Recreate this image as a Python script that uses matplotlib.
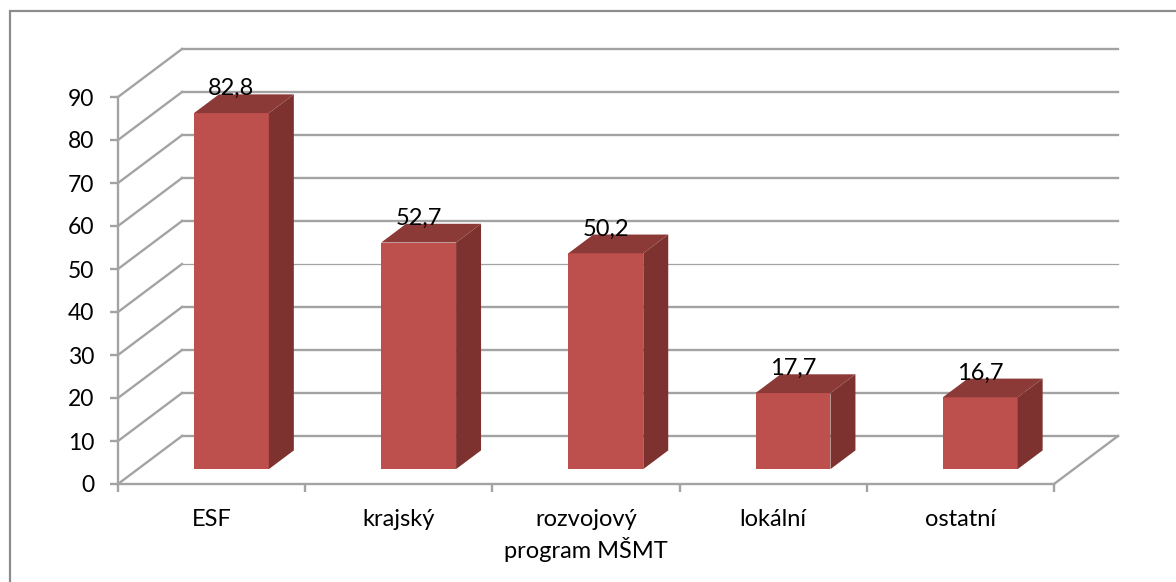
import matplotlib
matplotlib.use('Agg')
import matplotlib.pyplot as plt
from matplotlib.lines import Line2D

categories = ['ESF', 'krajský', 'rozvojový\nprogram MŠMT', 'lokální', 'ostatní']
values = [82.8, 52.7, 50.2, 17.7, 16.7]
value_labels = ['82,8', '52,7', '50,2', '17,7', '16,7']
y_ticks = [0, 10, 20, 30, 40, 50, 60, 70, 80, 90]

W, H = 1176, 582
GRID = '#a3a3a3'
FRONT = '#bd4f4c'
SIDE = '#7d322f'
TOP = '#8c3a37'

# oblique offset of the back wall, in data units
DEPTH_X = 64 / 187.2
DEPTH_Y = 48 / 4.3
BAR_W = 0.4
BAR_D0 = 0.31
BAR_D1 = 0.70


def proj(x, v, d):
    return x + d * DEPTH_X, v + d * DEPTH_Y


def poly(ax, pts, color, z):
    xs = [p[0] for p in pts]
    ys = [p[1] for p in pts]
    ax.fill(xs, ys, color=color, lw=0, zorder=z, clip_on=False)


plt.rcParams['font.family'] = ['Lato', 'DejaVu Sans']
fig = plt.figure(figsize=(W / 100, H / 100), dpi=100)

# frame only shows on the top and left, the rest is cropped off
fig.add_artist(Line2D([10 / W, 10 / W, 1], [0, 1 - 11 / H, 1 - 11 / H], transform=fig.transFigure,
                      color='#8c8c8c', lw=1.6, solid_joinstyle='miter'))

ax = fig.add_axes([118 / W, 1 - 484 / H, (1054 - 118) / W, (484 - 97) / H])
ax.set_xlim(0, 5)
ax.set_ylim(0, 90)
ax.patch.set_alpha(0)
for s in ['top', 'right']:
    ax.spines[s].set_visible(False)
for s in ['left', 'bottom']:
    ax.spines[s].set_color(GRID)
    ax.spines[s].set_linewidth(1.7)

ax.set_yticks(y_ticks)
ax.set_xticks(range(6))
ax.set_xticklabels([])
ax.tick_params(axis='both', color=GRID, width=1.7, length=5.5)
ax.tick_params(axis='y', labelsize=16.5, pad=11.5, labelcolor='black')

# back wall and side wall gridlines
for t in y_ticks:
    x0, y0 = proj(0, t, 0)
    x1, y1 = proj(0, t, 1)
    x2, y2 = proj(5, t, 1)
    ax.plot([x0, x1], [y0, y1], color=GRID, lw=1.7, zorder=1, clip_on=False)
    # the 40 line is much thinner on the back wall in the original
    back_lw = 0.9 if t == 40 else 1.7
    ax.plot([x1, x2], [y1, y2], color=GRID, lw=back_lw, zorder=1, clip_on=False)
x0, y0 = proj(5, 0, 0)
x1, y1 = proj(5, 0, 1)
ax.plot([x0, x1], [y0, y1], color=GRID, lw=1.7, zorder=1, clip_on=False)

for i, v in enumerate(values):
    left = i + 0.5 - BAR_W / 2
    right = i + 0.5 + BAR_W / 2
    poly(ax, [proj(left, 0, BAR_D0), proj(right, 0, BAR_D0),
              proj(right, v, BAR_D0), proj(left, v, BAR_D0)], FRONT, 3)
    poly(ax, [proj(right, 0, BAR_D0), proj(right, 0, BAR_D1),
              proj(right, v, BAR_D1), proj(right, v, BAR_D0)], SIDE, 3)
    poly(ax, [proj(left, v, BAR_D0), proj(right, v, BAR_D0),
              proj(right, v, BAR_D1), proj(left, v, BAR_D1)], TOP, 3)
    tx, _ = proj(i + 0.5, v, BAR_D0)
    _, ty = proj(i + 0.5, v, BAR_D1)
    ax.text(tx, ty - 0.2, value_labels[i], ha='center', va='baseline', fontsize=17,
            color='black', zorder=5, clip_on=False)

for i, c in enumerate(categories):
    ax.annotate(c, (i + 0.5, 0), xytext=(0, -18), textcoords='offset points',
                ha='center', va='top', fontsize=17, color='black', linespacing=1.32,
                annotation_clip=False)

fig.savefig('out.png', dpi=100, facecolor='white')
